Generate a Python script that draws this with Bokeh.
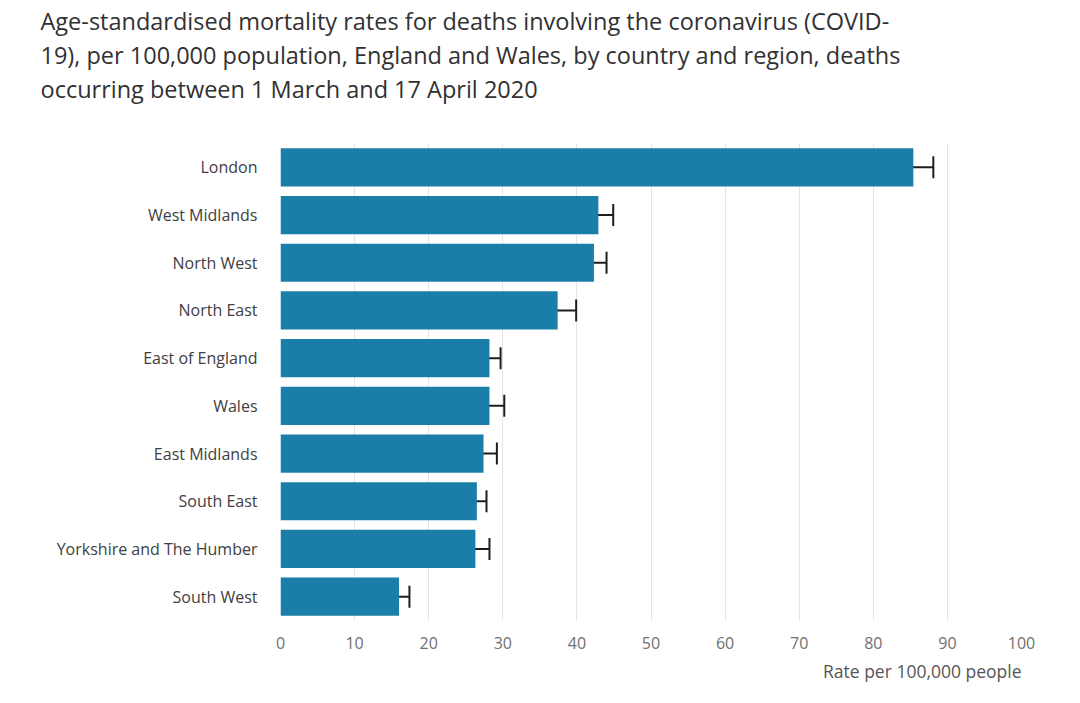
from bokeh.plotting import figure
from bokeh.models import ColumnDataSource, Whisker, TeeHead, Title, FactorRange, FixedTicker, Range1d
from bokeh.layouts import column
from bokeh.core.properties import value
from bokeh.embed import file_html
from bokeh.resources import INLINE

regions = ["London", "West Midlands", "North West", "North East", "East of England",
           "Wales", "East Midlands", "South East", "Yorkshire and The Humber", "South West"]
rates = [85.4, 42.9, 42.3, 37.4, 28.2, 28.2, 27.4, 26.5, 26.3, 16.0]
lower = [83.2, 41.4, 40.8, 35.1, 27.1, 26.5, 26.0, 25.7, 25.3, 15.3]
upper = [88.1, 44.9, 44.0, 39.9, 29.7, 30.2, 29.2, 27.8, 28.2, 17.4]
x_ticks = [0, 10, 20, 30, 40, 50, 60, 70, 80, 90, 100]
title_lines = [
    "Age-standardised mortality rates for deaths involving the coronavirus (COVID-",
    "19), per 100,000 population, England and Wales, by country and region, deaths",
    "occurring between 1 March and 17 April 2020",
]
x_label = "Rate per 100,000 people"

FONT = "Open Sans"
W = 1064
TITLE_H = 143

# --- title block (pixel coordinates, y measured from top) ---
head = figure(width=W, height=TITLE_H, output_backend="svg", toolbar_location=None,
              x_range=Range1d(0, W), y_range=Range1d(TITLE_H, 0),
              min_border=0, min_border_left=0, min_border_right=0,
              min_border_top=0, min_border_bottom=0)
head.axis.visible = False
head.grid.visible = False
head.outline_line_color = None
head.title = None
line_y = [20 + 34 * i for i in range(len(title_lines))]
head.text(x=[40] * len(title_lines), y=line_y, text=title_lines,
          text_font=value(FONT), text_font_size="23.5px", text_color="#323132",
          text_baseline="middle", text_align="left")

# --- chart ---
src = ColumnDataSource(dict(region=regions, rate=rates, lower=lower, upper=upper))

p = figure(width=W, height=695 - TITLE_H, output_backend="svg", toolbar_location=None,
           y_range=FactorRange(factors=regions[::-1], range_padding=0),
           x_range=(0, 100), min_border_left=280, min_border_right=43,
           min_border_bottom=75, min_border_top=0)
p.title = None
p.outline_line_color = None

p.hbar(y="region", right="rate", left=0, height=0.8, source=src,
       fill_color="#1b7ea8", line_color=None)

w = Whisker(base="region", lower="lower", upper="upper", source=src, dimension="width",
            line_color="#1e1e1e", line_width=2,
            lower_head=TeeHead(size=22, line_color="#1e1e1e", line_width=2),
            upper_head=TeeHead(size=22, line_color="#1e1e1e", line_width=2))
p.add_layout(w)

p.ygrid.grid_line_color = None
p.xgrid.grid_line_color = "#e4e4e4"
p.xgrid.grid_line_width = 1
p.xaxis.ticker = FixedTicker(ticks=x_ticks)
p.xaxis.axis_line_color = None
p.xaxis.major_tick_line_color = None
p.xaxis.minor_tick_line_color = None
p.xaxis.major_label_standoff = 10
p.xaxis.major_label_text_font = FONT
p.xaxis.major_label_text_font_size = "16px"
p.xaxis.major_label_text_color = "#707070"

p.yaxis.axis_line_color = None
p.yaxis.major_tick_line_color = None
p.yaxis.minor_tick_line_color = None
p.yaxis.major_label_standoff = 17
p.yaxis.major_label_text_font = FONT
p.yaxis.major_label_text_font_size = "16px"
p.yaxis.major_label_text_color = "#414042"

p.add_layout(Title(text=x_label, align="right", text_font=FONT, text_font_size="17.5px",
                   text_font_style="normal", text_color="#555555", standoff=10), "below")

for fig in (head, p):
    if "frame_align" in fig.properties():
        fig.frame_align = False

layout = column(head, p, spacing=0)
open("out.html", "w").write(file_html(layout, INLINE))
